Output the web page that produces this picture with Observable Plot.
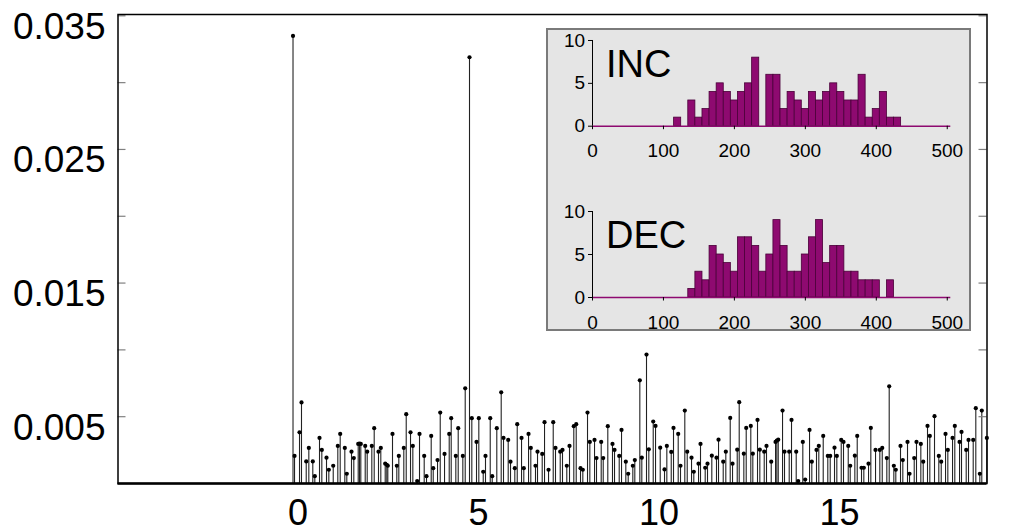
<!DOCTYPE html>
<html>
<head>
<meta charset="utf-8">
<script src="https://cdn.jsdelivr.net/npm/d3@7"></script>
<script src="https://cdn.jsdelivr.net/npm/@observablehq/plot@0.6"></script>
<style>
  html, body { margin: 0; padding: 0; background: white; }
  #wrap { position: relative; width: 1020px; height: 532px; overflow: hidden; }
  #wrap > * { position: absolute; }
  #box { left: 546px; top: 28px; width: 425px; height: 303px; box-sizing: border-box;
         background: #e5e5e5; border: 2px solid #7a7a7a; }
</style>
</head>
<body>
<div id="wrap"><div id="box"></div></div>
<script>
const FONT = '"Liberation Sans", Arial, Helvetica, sans-serif';

// Main stem plot: lag positions and values
const stemX = [
  0, 0.042, 0.180, 0.235, 0.366, 0.438, 0.548, 0.604, 0.734, 0.798,
  0.928, 0.992, 1.114, 1.241, 1.307, 1.435, 1.490, 1.620, 1.684, 1.806,
  1.842, 1.878, 2.000, 2.055, 2.183, 2.249, 2.368, 2.432, 2.554, 2.598,
  2.626, 2.756, 2.875, 2.931, 3.069, 3.136, 3.255, 3.319, 3.440, 3.504,
  3.634, 3.698, 3.828, 3.884, 4.003, 4.078, 4.197, 4.327, 4.382, 4.510,
  4.576, 4.704, 4.770, 4.889, 4.953, 5.083, 5.147, 5.269, 5.332, 5.463,
  5.518, 5.645, 5.767, 5.831, 5.961, 6.025, 6.144, 6.211, 6.330, 6.393,
  6.524, 6.587, 6.717, 6.773, 6.903, 6.967, 7.078, 7.208, 7.271, 7.402,
  7.465, 7.584, 7.659, 7.778, 7.845, 7.964, 8.028, 8.158, 8.222, 8.352,
  8.407, 8.537, 8.593, 8.720, 8.850, 8.906, 9.036, 9.100, 9.219, 9.285,
  9.413, 9.468, 9.607, 9.662, 9.792, 9.856, 9.978, 10.042, 10.172, 10.291,
  10.355, 10.477, 10.540, 10.670, 10.734, 10.853, 10.920, 11.039, 11.102, 11.233,
  11.288, 11.418, 11.482, 11.601, 11.731, 11.787, 11.917, 11.989, 12.111, 12.175,
  12.305, 12.360, 12.488, 12.554, 12.681, 12.737, 12.867, 12.931, 13.053, 13.116,
  13.247, 13.366, 13.402, 13.441, 13.560, 13.615, 13.745, 13.809, 13.939, 13.994,
  14.122, 14.188, 14.308, 14.371, 14.501, 14.565, 14.687, 14.814, 14.881, 15.000,
  15.064, 15.186, 15.249, 15.380, 15.435, 15.563, 15.629, 15.748, 15.812, 15.942,
  16.006, 16.136, 16.255, 16.322, 16.449, 16.515, 16.643, 16.698, 16.828, 16.892,
  17.022, 17.078, 17.208, 17.271, 17.391, 17.457, 17.576, 17.640, 17.770, 17.889,
  17.956, 18.075, 18.139, 18.269, 18.332, 18.463, 18.518, 18.648, 18.712, 18.842,
  18.914, 19.025, 19.080, 19.220
];
const stemY = [
  0.0335, 0.00206, 0.00383, 0.00607, 0.00165, 0.00266, 0.00165, 0.00055, 0.00341, 0.00251,
  0.00193, 0.00103, 0.00133, 0.00281, 0.00371, 0.00266, 0.00073, 0.00238, 0.0019, 0.00296,
  0.00298, 0.00296, 0.00281, 0.00238, 0.00281, 0.00414, 0.00238, 0.00266, 0.00148, 0.0014,
  0.00133, 0.00371, 0.00133, 0.00206, 0.00266, 0.00519, 0.00383, 0.00281, 0.00018, 0.00371,
  0.00206, 0.00055, 0.00356, 0.00115, 0.00175, 0.00531, 0.00221, 0.00371, 0.00489, 0.00206,
  0.00414, 0.00206, 0.00712, 0.0319, 0.00489, 0.00311, 0.00489, 0.00088, 0.00206, 0.00489,
  0.00055, 0.00414, 0.00682, 0.00341, 0.00326, 0.00163, 0.00115, 0.00444, 0.00341, 0.00115,
  0.00371, 0.00266, 0.00133, 0.00238, 0.00221, 0.00459, 0.00103, 0.00459, 0.00266, 0.00238,
  0.00251, 0.00133, 0.00281, 0.00429, 0.00444, 0.00115, 0.00103, 0.00531, 0.00311, 0.00326,
  0.0019, 0.00311, 0.0019, 0.00429, 0.00296, 0.00251, 0.00206, 0.00401, 0.00163, 0.00073,
  0.00133, 0.00175, 0.00772, 0.00193, 0.00965, 0.00256, 0.00464, 0.00431, 0.00268, 0.00105,
  0.00281, 0.00236, 0.00416, 0.00371, 0.00133, 0.00546, 0.00238, 0.00193, 0.00088, 0.00148,
  0.00296, 0.00118, 0.00148, 0.00208, 0.00193, 0.00328, 0.00163, 0.00238, 0.00491, 0.00148,
  0.00253, 0.00609, 0.00223, 0.00416, 0.00431, 0.00223, 0.00476, 0.00253, 0.00238, 0.00281,
  0.00163, 0.00311, 0.00321, 0.00328, 0.00546, 0.00238, 0.00238, 0.00476, 0.00238, 0.00018,
  0.00311, 0.0003, 0.00401, 0.00163, 0.00251, 0.00281, 0.00356, 0.00206, 0.00206, 0.00268,
  0.00206, 0.00326, 0.00311, 0.00281, 0.00133, 0.00208, 0.00356, 0.00118, 0.00118, 0.00148,
  0.00416, 0.00251, 0.00251, 0.00266, 0.0019, 0.00727, 0.00133, 0.00103, 0.00281, 0.00175,
  0.00311, 0.00073, 0.0019, 0.00311, 0.00296, 0.00163, 0.00431, 0.00356, 0.00504, 0.00206,
  0.00163, 0.00371, 0.00251, 0.00341, 0.00431, 0.00311, 0.00386, 0.00251, 0.00326, 0.00326,
  0.00564, 0.00073, 0.00546, 0.00341
];
const xTickLabels = [0, 5, 10, 15];
const yTickLabels = [0.005, 0.015, 0.025, 0.035];
const yTickMarks = [0.005, 0.01, 0.015, 0.02, 0.025, 0.03, 0.035];

// Inset histograms (bin centres, counts)
const incBins   = [120, 140, 150, 160, 170, 180, 190, 200, 210, 220, 230, 250, 260, 270, 280, 290, 300, 310, 320, 330, 340, 350, 360, 370, 380, 390, 400, 410, 420, 430];
const incCounts = [1,   3,   1,   2,   4,   5,   4,   3,   4,   5,   8,   6,   6,   2,   4,   3,   2,   4,   3,   4,   5,   4,   3,   3,   6,   1,   2,   4,   1,   1];
const decBins   = [140, 150, 160, 170, 180, 190, 200, 210, 220, 230, 240, 250, 260, 270, 280, 290, 300, 310, 320, 330, 340, 350, 360, 370, 380, 390, 400, 420];
const decCounts = [1,   3,   2,   6,   5,   4,   3,   7,   7,   6,   3,   5,   9,   6,   3,   3,   5,   7,   9,   4,   6,   6,   3,   3,   2,   2,   2,   2];
const histXTicks = [0, 100, 200, 300, 400, 500];
const histYTicks = [0, 5, 10];

const stems = stemX.map((x, i) => ({x, y: stemY[i]}));
const W = 1020, H = 532, ML = 117.5, MR = 33.5;
const innerW = W - ML - MR;

const main = Plot.plot({
  width: W, height: H,
  marginLeft: ML, marginRight: MR, marginTop: 14, marginBottom: 49,
  style: {background: "white", fontFamily: FONT, color: "black"},
  x: {domain: [-4.848, 19.224]},
  y: {domain: [0, 0.0351]},
  marks: [
    Plot.ruleX(stems, {x: "x", y1: 0, y2: "y", stroke: "#222", strokeWidth: 1.1}),
    Plot.dot(stems, {x: "x", y: "y", r: 2.1, fill: "#000", stroke: "none"}),
    Plot.tickY(yTickMarks, {y: d => d, stroke: "#808080", strokeWidth: 1.2, insetRight: innerW - 8}),
    Plot.tickY(yTickMarks, {y: d => d, stroke: "#808080", strokeWidth: 1.2, insetLeft: innerW - 8}),
    Plot.frame({stroke: "#000", strokeWidth: 1.5}),
    Plot.ruleY([0], {stroke: "#000", strokeWidth: 2.6}),
    Plot.axisY({ticks: yTickLabels, tickFormat: d => d.toFixed(3), tickSize: 0, tickPadding: 12.5,
                fontSize: 37, dy: 11, label: null}),
    Plot.axisX({ticks: xTickLabels, tickFormat: d => String(d), tickSize: 0, tickPadding: 16,
                fontSize: 36, dx: 5, label: null})
  ]
});
main.style.left = "0px"; main.style.top = "0px";
document.getElementById("wrap").prepend(main);

function hist(bins, counts, label, height, mb) {
  const data = bins.map((b, i) => ({bin: b, count: counts[i]}));
  return Plot.plot({
    width: 423, height,
    marginLeft: 45, marginRight: 19.7, marginTop: 11, marginBottom: mb,
    style: {background: "transparent", fontFamily: FONT, color: "black", overflow: "visible"},
    x: {domain: [0, 505]},
    y: {domain: [0, 10]},
    marks: [
      Plot.rectY(data, {x1: d => d.bin - 5, x2: d => d.bin + 5, y1: 0, y2: "count",
                        fill: "#8e0a70", stroke: "#4a0039", strokeWidth: 0.8}),
      Plot.ruleY([0], {stroke: "#8e0a70", strokeWidth: 1.5}),
      Plot.ruleX([0], {stroke: "#000", strokeWidth: 1}),
      Plot.axisY({ticks: histYTicks, tickSize: 4, tickPadding: 3.5, fontSize: 19, label: null}),
      Plot.axisX({ticks: histXTicks, tickSize: 3.5, tickPadding: 14, fontSize: 19, label: null}),
      Plot.text([label], {frameAnchor: "top-left", dx: 13.5, dy: 10, lineAnchor: "top",
                          textAnchor: "start", fontSize: 38, fill: "#000"})
    ]
  });
}
const inc = hist(incBins, incCounts, "INC", 136.7, 40);
inc.style.left = "546.7px"; inc.style.top = "29px";
const dec = hist(decBins, decCounts, "DEC", 130, 33);
dec.style.left = "546.7px"; dec.style.top = "199.7px";
document.getElementById("wrap").append(inc, dec);
</script>
</body>
</html>
